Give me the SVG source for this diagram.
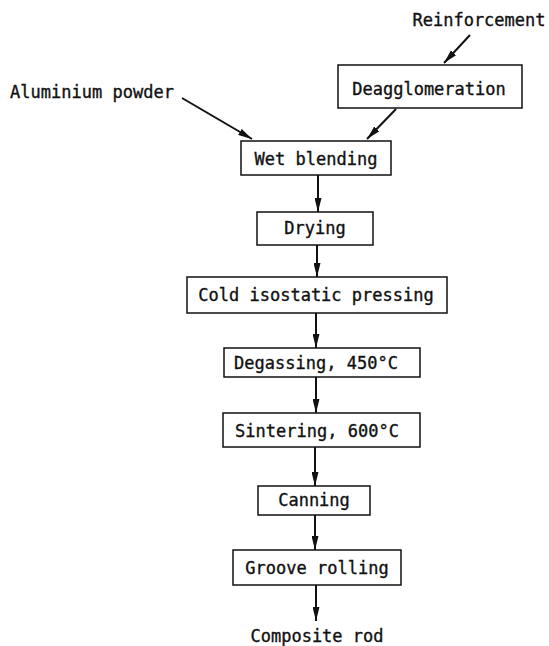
<svg xmlns="http://www.w3.org/2000/svg" width="549" height="646" viewBox="0 0 549 646">
<defs>
<marker id="ah" viewBox="0 0 14 7" refX="14" refY="3.5" markerWidth="14" markerHeight="7" markerUnits="userSpaceOnUse" orient="auto">
<path d="M0,0 L14,3.5 L0,7 Z" fill="#111"/>
</marker>
<style>
rect{fill:#fff;stroke:#111;stroke-width:1.5}
text{font-family:"DejaVu Sans Mono","Liberation Mono",monospace;font-size:17px;fill:#111;stroke:#111;stroke-width:0.35;text-anchor:middle;dominant-baseline:central}
.c line{stroke:#111;stroke-width:2;marker-end:url(#ah)}
</style>
</defs>
<rect x="0" y="0" width="549" height="646" style="stroke:none;fill:#fff"/>
<g class="c" id="connectors">
<line x1="470" y1="35" x2="444" y2="63"/>
<line x1="182" y1="98" x2="252" y2="139"/>
<line x1="396" y1="109" x2="367" y2="139"/>
<line x1="318" y1="175" x2="318" y2="212"/>
<line x1="317" y1="245" x2="317" y2="277"/>
<line x1="316" y1="313" x2="316" y2="348"/>
<line x1="316" y1="377" x2="316" y2="413"/>
<line x1="315" y1="447" x2="315" y2="486"/>
<line x1="315" y1="515" x2="315" y2="550"/>
<line x1="316" y1="585" x2="316" y2="621"/>
</g>
<g id="reinforcement"><text x="479" y="20">Reinforcement</text></g>
<g id="aluminium"><text x="92" y="92">Aluminium powder</text></g>
<g id="deagglomeration"><rect x="338" y="65" width="184" height="43"/><text x="429" y="89">Deagglomeration</text></g>
<g id="wet-blending"><rect x="241" y="141" width="150" height="34"/><text x="316" y="159">Wet blending</text></g>
<g id="drying"><rect x="257" y="212" width="116" height="33"/><text x="315" y="228">Drying</text></g>
<g id="cold-isostatic"><rect x="187" y="277" width="260" height="36"/><text x="316" y="295">Cold isostatic pressing</text></g>
<g id="degassing"><rect x="224" y="348" width="196" height="29"/><text x="316" y="363">Degassing, 450°C</text></g>
<g id="sintering"><rect x="223" y="413" width="197" height="34"/><text x="317" y="431">Sintering, 600°C</text></g>
<g id="canning"><rect x="258" y="486" width="112" height="29"/><text x="314" y="500">Canning</text></g>
<g id="groove-rolling"><rect x="233" y="550" width="168" height="35"/><text x="317" y="568">Groove rolling</text></g>
<g id="composite-rod"><text x="317" y="636">Composite rod</text></g>
</svg>
